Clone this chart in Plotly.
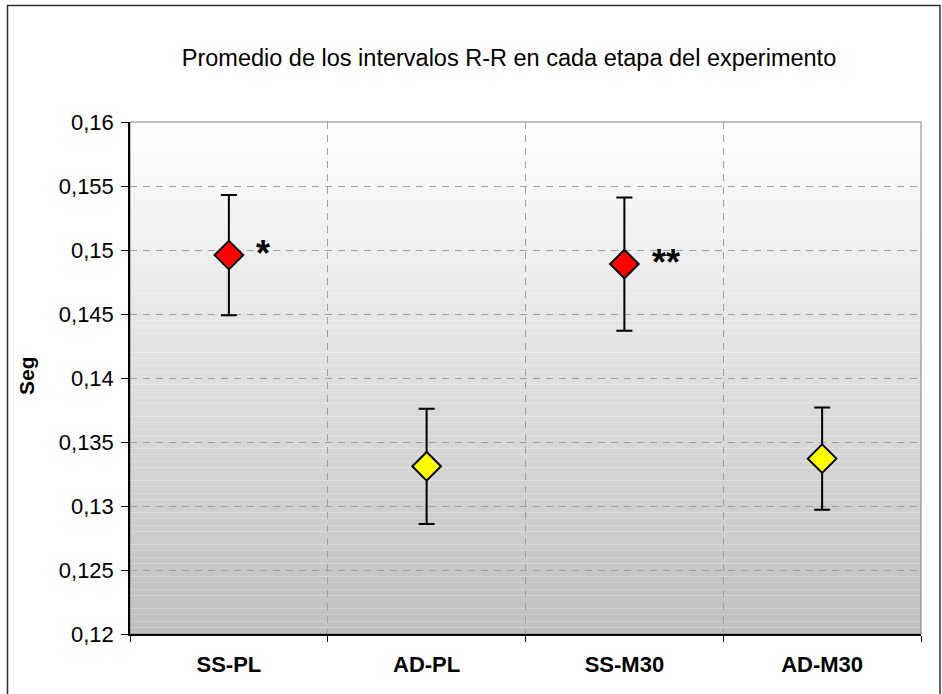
import plotly.graph_objects as go

categories = ["SS-PL", "AD-PL", "SS-M30", "AD-M30"]
means = [0.1496, 0.1331, 0.1489, 0.1337]
errors = [0.0047, 0.0045, 0.0052, 0.0040]
marker_colors = ["#ff0000", "#ffff00", "#ff0000", "#ffff00"]
significance = ["*", "", "**", ""]
y_ticks = [0.12, 0.125, 0.13, 0.135, 0.14, 0.145, 0.15, 0.155, 0.16]
y_ticktext = ["0,12", "0,125", "0,13", "0,135", "0,14", "0,145", "0,15", "0,155", "0,16"]

FONT = "Liberation Sans, Arial, sans-serif"
W, H = 942, 694
ML, MR, MT, MB = 130, 21, 122, 60
PW, PH = W - ML - MR, H - MT - MB

def px_x(p):
    return (p - ML) / PW

def px_y(p):
    return (H - MB - p) / PH

fig = go.Figure()
fig.add_trace(go.Scatter(
    x=categories, y=means, mode="markers",
    marker=dict(symbol="diamond", size=22, color=marker_colors,
                line=dict(color="#000000", width=2)),
    error_y=dict(type="data", array=errors, visible=True,
                 color="#000000", thickness=2, width=8),
    showlegend=False, hoverinfo="skip",
))

shapes = []
# vertical gradient background (white to gray)
n = 80
for i in range(n):
    t = i / (n - 1)
    c = int(round(192 + (254 - 192) * t))
    shapes.append(dict(type="rect", xref="x domain", yref="y domain",
                       x0=0, x1=1, y0=i / n, y1=(i + 1) / n,
                       fillcolor=f"rgb({c},{c},{c})", line=dict(width=0),
                       layer="below"))
shapes.append(dict(type="rect", xref="x domain", yref="y domain",
                   x0=0, x1=1, y0=0, y1=1, fillcolor="rgba(0,0,0,0)",
                   line=dict(color="#808080", width=1), layer="below"))
# outer chart frame
shapes.append(dict(type="rect", xref="paper", yref="paper",
                   x0=px_x(7.5), x1=px_x(940), y0=px_y(710), y1=px_y(5.5),
                   fillcolor="rgba(0,0,0,0)",
                   line=dict(color="#303030", width=1.5), layer="above"))

annotations = []
shifts = {"*": 34, "**": 42}
for cat, m, s in zip(categories, means, significance):
    if s:
        annotations.append(dict(x=cat, y=m, xref="x", yref="y", text=s,
                                showarrow=False, xshift=shifts[s], yshift=2,
                                font=dict(family=FONT, size=36, color="#000000",
                                          weight="bold")))
annotations.append(dict(xref="paper", yref="paper", x=px_x(26), y=px_y(376),
                        xanchor="center", yanchor="middle",
                        text="Seg", textangle=-90, showarrow=False,
                        font=dict(family=FONT, size=21, color="#000000",
                                  weight="bold")))

fig.update_layout(
    width=W, height=H,
    margin=dict(l=ML, r=MR, t=MT, b=MB),
    paper_bgcolor="#ffffff", plot_bgcolor="rgba(0,0,0,0)",
    title=dict(text="Promedio de los intervalos R-R en cada etapa del experimento",
               x=509 / W, xref="container", xanchor="center",
               y=1 - 58 / H, yref="container", yanchor="middle",
               font=dict(family=FONT, size=23.5, color="#000000")),
    shapes=shapes, annotations=annotations,
    font=dict(family=FONT, color="#000000"),
)
fig.update_xaxes(
    type="category", categoryorder="array", categoryarray=categories,
    range=[-0.5, len(categories) - 0.5],
    tickson="boundaries", ticks="outside", ticklen=6, tickcolor="#000000",
    showgrid=True, gridcolor="#a0a0a0", griddash="7px,6px", gridwidth=1,
    showline=True, linecolor="#000000", linewidth=1.5,
    tickfont=dict(family=FONT, size=22, color="#000000", weight="bold"),
    ticklabelstandoff=10, zeroline=False,
)
fig.update_yaxes(
    range=[0.12, 0.16], tickvals=y_ticks, ticktext=y_ticktext,
    ticks="outside", ticklen=7, tickcolor="#000000",
    showgrid=True, gridcolor="#a0a0a0", griddash="7px,6px", gridwidth=1,
    showline=True, linecolor="#000000", linewidth=1.5,
    tickfont=dict(family=FONT, size=22, color="#000000"),
    ticklabelstandoff=3, zeroline=False,
)

fig.write_html("out.html")
